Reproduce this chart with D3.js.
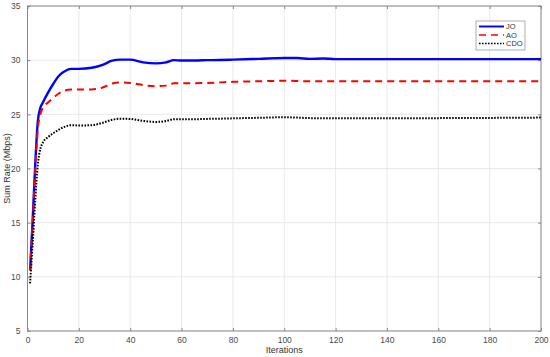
<!DOCTYPE html>
<html>
<head>
<meta charset="utf-8">
<script src="https://cdn.jsdelivr.net/npm/d3@7"></script>
<style>
  body { margin: 0; background: #fff; }
  text { font-family: "Liberation Sans", Arial, sans-serif; }
</style>
</head>
<body>
<svg id="canvas" width="550" height="357"></svg>
<script>
const iterations = [1, 2, 3, 4, 5, 6, 8, 10, 12, 14, 17, 20, 25, 29, 33, 36, 40, 45, 50, 54, 57, 60, 65, 70, 75, 80, 90, 100, 105, 110, 115, 120, 140, 160, 180, 200];
const joValues = [10.6, 15.2, 20.3, 24.3, 25.6, 26.1, 27.0, 27.8, 28.5, 28.9, 29.2, 29.2, 29.3, 29.55, 29.95, 30.05, 30.05, 29.8, 29.7, 29.8, 30.0, 29.97, 29.97, 30.0, 30.02, 30.05, 30.12, 30.2, 30.2, 30.12, 30.15, 30.1, 30.1, 30.1, 30.1, 30.1];
const aoValues = [10.6, 15.0, 19.8, 23.6, 25.0, 25.6, 26.1, 26.5, 26.9, 27.15, 27.3, 27.3, 27.3, 27.45, 27.85, 27.95, 27.9, 27.7, 27.6, 27.65, 27.87, 27.87, 27.87, 27.9, 27.95, 28.0, 28.05, 28.1, 28.08, 28.05, 28.05, 28.05, 28.05, 28.05, 28.05, 28.05];
const cdoValues = [9.4, 13.0, 17.0, 20.3, 21.8, 22.4, 22.9, 23.25, 23.55, 23.8, 24.0, 23.97, 24.0, 24.2, 24.5, 24.6, 24.57, 24.4, 24.3, 24.38, 24.55, 24.55, 24.55, 24.58, 24.6, 24.63, 24.68, 24.73, 24.7, 24.65, 24.65, 24.65, 24.65, 24.65, 24.67, 24.7];
const seriesNames = ["JO", "AO", "CDO"];
const xTicks = [0, 20, 40, 60, 80, 100, 120, 140, 160, 180, 200];
const yTicks = [5, 10, 15, 20, 25, 30, 35];

const canvas = d3.select("#canvas");
const plotLeft = 27.5, plotRight = 541, plotTop = 6, plotBottom = 331;

const x = d3.scaleLinear().domain([0, 200]).range([plotLeft, plotRight]);
const y = d3.scaleLinear().domain([5, 35]).range([plotBottom, plotTop]);

// grid
canvas.append("g")
  .selectAll("line")
  .data(xTicks)
  .enter()
  .append("line")
  .attr("x1", (d) => x(d)).attr("x2", (d) => x(d))
  .attr("y1", plotTop).attr("y2", plotBottom)
  .attr("stroke", "#e3e3e3").attr("stroke-width", 0.8);
canvas.append("g")
  .selectAll("line")
  .data(yTicks)
  .enter()
  .append("line")
  .attr("x1", plotLeft).attr("x2", plotRight)
  .attr("y1", (d) => y(d)).attr("y2", (d) => y(d))
  .attr("stroke", "#e3e3e3").attr("stroke-width", 0.8);

// axes
const axisColor = "#8a8a8a";
const styleAxis = (g) => {
  g.select(".domain").remove();
  g.selectAll(".tick line").attr("stroke", axisColor);
  g.selectAll(".tick text").attr("fill", "#4a4a4a").attr("font-size", 8.5);
};
canvas.append("g")
  .attr("transform", `translate(0,${plotBottom})`)
  .call(d3.axisBottom(x).tickValues(xTicks).tickSizeInner(-3).tickPadding(6))
  .call(styleAxis);
canvas.append("g")
  .attr("transform", `translate(0,${plotTop})`)
  .call(d3.axisTop(x).tickValues(xTicks).tickSizeInner(-3).tickFormat(""))
  .call(styleAxis);
canvas.append("g")
  .attr("transform", `translate(${plotLeft},0)`)
  .call(d3.axisLeft(y).tickValues(yTicks).tickSizeInner(-3).tickPadding(7))
  .call(styleAxis);
canvas.append("g")
  .attr("transform", `translate(${plotRight},0)`)
  .call(d3.axisRight(y).tickValues(yTicks).tickSizeInner(-3).tickFormat(""))
  .call(styleAxis);

canvas.append("rect")
  .attr("x", plotLeft).attr("y", plotTop)
  .attr("width", plotRight - plotLeft).attr("height", plotBottom - plotTop)
  .attr("fill", "none").attr("stroke", axisColor).attr("stroke-width", 1);

// labels
canvas.append("text")
  .attr("x", (plotLeft + plotRight) / 2).attr("y", 353)
  .attr("text-anchor", "middle").attr("font-size", 9).attr("fill", "#333")
  .text("Iterations");
canvas.append("text")
  .attr("transform", `translate(10,${(plotTop + plotBottom) / 2}) rotate(-90)`)
  .attr("text-anchor", "middle").attr("font-size", 9).attr("fill", "#333")
  .text("Sum Rate (Mbps)");

// lines
const styles = [
  { values: joValues, color: "#0000ff", width: 2.4, dash: null },
  { values: aoValues, color: "#ff0000", width: 2, dash: "7,5" },
  { values: cdoValues, color: "#000000", width: 2, dash: "1.6,1.4" },
];

const line = d3.line()
  .x((d) => x(d[0]))
  .y((d) => y(d[1]))
  .curve(d3.curveMonotoneX);

styles.forEach((s) => {
  canvas.append("path")
    .datum(iterations.map((it, i) => [it, s.values[i]]))
    .attr("d", line)
    .attr("fill", "none")
    .attr("stroke", s.color)
    .attr("stroke-width", s.width)
    .attr("stroke-dasharray", s.dash);
});

// legend
const legend = canvas.append("g").attr("transform", "translate(476,21)");
legend.append("rect")
  .attr("width", 49).attr("height", 29)
  .attr("fill", "#fff").attr("stroke", "#9a9a9a").attr("stroke-width", 0.8);
seriesNames.forEach((name, i) => {
  const s = styles[i];
  const ly = 5.5 + i * 8.5;
  legend.append("line")
    .attr("x1", 3).attr("x2", 28).attr("y1", ly).attr("y2", ly)
    .attr("stroke", s.color).attr("stroke-width", s.width * 0.8)
    .attr("stroke-dasharray", s.dash);
  legend.append("text")
    .attr("x", 30).attr("y", ly + 2.8)
    .attr("font-size", 7.5).attr("fill", "#333")
    .text(name);
});
</script>
</body>
</html>
